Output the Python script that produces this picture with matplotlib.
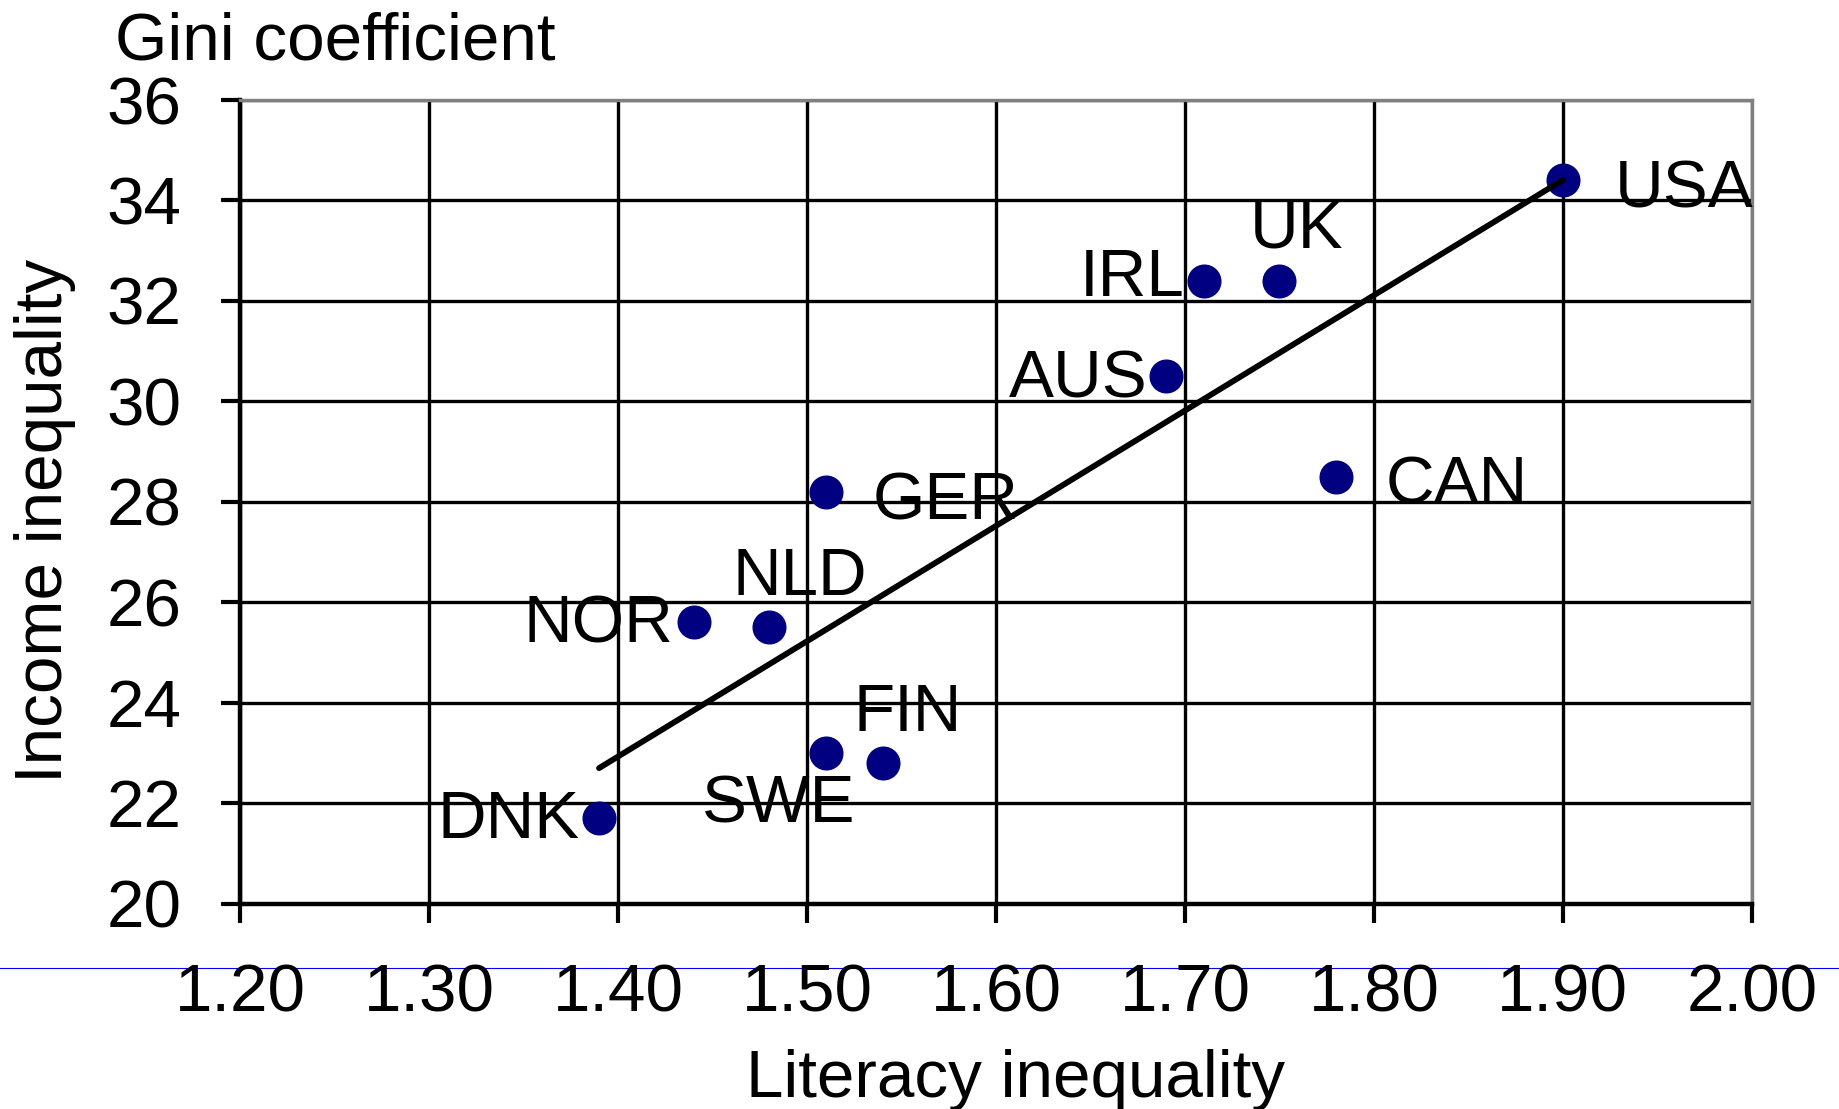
import numpy as np
import matplotlib
matplotlib.use("Agg")
import matplotlib.pyplot as plt
from matplotlib.lines import Line2D

plt.rcParams['font.family'] = ['Liberation Sans', 'DejaVu Sans']

# literacy inequality vs income inequality (Gini)
countries = ['USA', 'UK', 'IRL', 'AUS', 'CAN', 'GER', 'NLD', 'NOR', 'FIN', 'SWE', 'DNK']
literacy = [1.90, 1.75, 1.71, 1.69, 1.78, 1.51, 1.48, 1.44, 1.54, 1.51, 1.39]
gini = [34.4, 32.4, 32.4, 30.5, 28.5, 28.2, 25.5, 25.6, 22.8, 23.0, 21.7]

x_ticks = [1.20, 1.30, 1.40, 1.50, 1.60, 1.70, 1.80, 1.90, 2.00]
y_ticks = [20, 22, 24, 26, 28, 30, 32, 34, 36]

# label anchors (data coords, baseline) and horizontal alignment
label_pos = [(1.9275, 33.85, 'left'), (1.7593, 33.07, 'center'),
             (1.700, 32.10, 'right'), (1.6804, 30.07, 'right'),
             (1.8063, 27.97, 'left'), (1.5349, 27.64, 'left'),
             (1.496, 26.14, 'center'), (1.4291, 25.19, 'right'),
             (1.5534, 23.43, 'center'), (1.4848, 21.61, 'center'),
             (1.380, 21.30, 'right')]

FS = 48.5


def main():
    fig = plt.figure(figsize=(18.4, 11.09), dpi=100)
    ax = fig.add_axes([0.1304, 0.1853, 0.8217, 0.7245])

    ax.set_xlim(1.20, 2.00)
    ax.set_ylim(20, 36)
    ax.set_xticks(x_ticks)
    ax.set_yticks(y_ticks)
    ax.set_xticklabels([f"{v:.2f}" for v in x_ticks])
    ax.set_yticklabels([str(v) for v in y_ticks])
    ax.tick_params(axis='both', direction='out', length=14, width=3.0,
                   labelsize=FS, color='black')
    ax.tick_params(axis='x', pad=29)
    ax.tick_params(axis='y', pad=28)
    ax.grid(True, color='black', linewidth=2.4)
    ax.set_axisbelow(True)

    for side in ['top', 'right']:
        ax.spines[side].set_color('#808080')
        ax.spines[side].set_linewidth(2.4)
    for side in ['left', 'bottom']:
        ax.spines[side].set_color('black')
        ax.spines[side].set_linewidth(3.2)

    x = np.array(literacy)
    y = np.array(gini)
    ax.plot(x, y, 'o', color='#000080', markersize=23.5, zorder=3,
            linestyle='none')

    slope, icpt = np.polyfit(x, y, 1)
    xs = np.array([x.min(), x.max()])
    ax.plot(xs, slope * xs + icpt, color='black', linewidth=4.2, zorder=4,
            solid_capstyle='round')

    for name, (lx, ly, ha) in zip(countries, label_pos):
        ax.text(lx, ly, name, fontsize=FS, ha=ha, va='baseline', zorder=5)

    fig.text(0.0625, 1 - 60 / 1109, 'Gini coefficient', fontsize=FS,
             ha='left', va='baseline')
    fig.text(746 / 1840, 1 - 1097 / 1109, 'Literacy inequality', fontsize=FS,
             ha='left', va='baseline')
    fig.text(45 / 1840, 1 - 521 / 1109, 'Income inequality', fontsize=FS,
             ha='center', va='center', rotation=90)

    fig.add_artist(Line2D([0, 1], [1 - 968 / 1109, 1 - 968 / 1109],
                          transform=fig.transFigure, color='blue',
                          linewidth=0.8, zorder=0))

    fig.savefig('out.png', dpi=100)


if __name__ == "__main__":
    main()
